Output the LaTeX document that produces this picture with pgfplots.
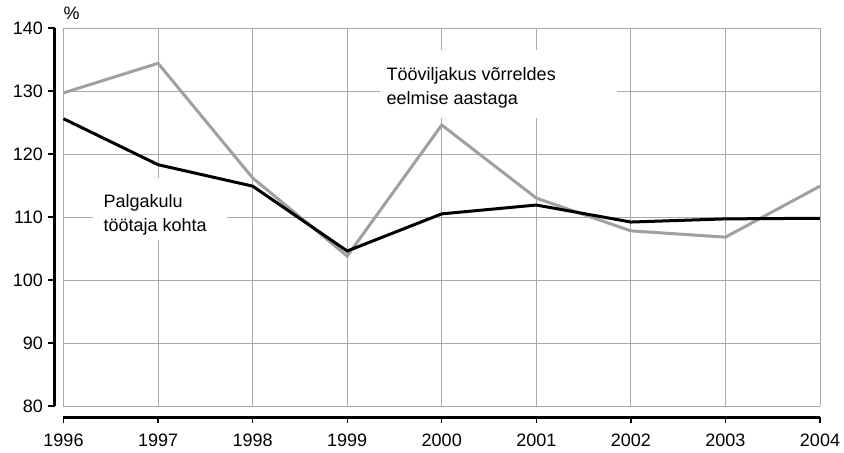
\documentclass[border=0pt]{standalone}
\usepackage{pgfplots}
\pgfplotsset{compat=1.18}
\usepackage{fontspec}
\setmainfont{Liberation Sans}
\definecolor{gridc}{RGB}{170,170,170}
\definecolor{linec}{RGB}{160,160,160}
\begin{document}
\begin{tikzpicture}
\begin{axis}[
  scale only axis, width=756.5pt, height=378pt,
  xmin=0, xmax=8, ymin=80, ymax=140,
  xtick={0,...,8}, xticklabels={1996,1997,1998,1999,2000,2001,2002,2003,2004},
  ytick={80,90,...,140},
  /pgf/number format/assume math mode=true,
  ticklabel style={font=\fontsize{18}{21}\selectfont, inner sep=0pt},
  yticklabel style={anchor=east, xshift=-20.5pt},
  xticklabel style={anchor=north, yshift=-28pt},
  axis line style={draw=none},
  major tick length=0pt,
  grid=major, major grid style={gridc, line width=1pt},
  clip=false,
]
\path (rel axis cs:0,0) ++(-63.5pt,-46pt);
\path (rel axis cs:1,1) ++(24pt,28pt);
% axis lines and ticks (detached)
\draw[black, line width=3pt] ([xshift=-8.5pt]rel axis cs:0,0) -- ([xshift=-8.5pt]rel axis cs:0,1);
\draw[black, line width=3pt] ([yshift=-11pt]rel axis cs:0,0) -- ([yshift=-11pt]rel axis cs:1,0);
\pgfplotsinvokeforeach{0,1,2,3,4,5,6}{
  \draw[black, line width=1.3pt] ([xshift=-8.5pt]rel axis cs:0,#1/6) -- ([xshift=-15.5pt]rel axis cs:0,#1/6);
}
\pgfplotsinvokeforeach{0,1,2,3,4,5,6,7,8}{
  \draw[black, line width=1.3pt] ([yshift=-11pt]rel axis cs:#1/8,0) -- ([yshift=-17pt]rel axis cs:#1/8,0);
}
% white label boxes
\fill[white] (axis cs:3.347,136.51) rectangle (axis cs:5.853,125.71);
\fill[white] (axis cs:0.312,116.19) rectangle (axis cs:1.729,106.35);
\addplot[linec, line width=3pt] coordinates {
(0,129.7) (1,134.4) (2,116.2) (3,103.8) (4,124.6) (5,113.0) (6,107.8) (7,106.8) (8,114.9)};
\addplot[black, line width=3pt] coordinates {
(0,125.6) (1,118.3) (2,114.9) (3,104.6) (4,110.5) (5,111.9) (6,109.2) (7,109.7) (8,109.8)};
\begin{scope}[every node/.style={anchor=base west, inner sep=0pt, font=\fontsize{18}{21}\selectfont}]
\node at (axis cs:3.416,131.67) {Tööviljakus võrreldes};
\node at (axis cs:3.416,127.78) {eelmise aastaga};
\node at (axis cs:0.423,111.54) {Palgakulu};
\node at (axis cs:0.423,107.67) {töötaja kohta};
\end{scope}
\node[anchor=base west, inner sep=0pt, font=\fontsize{18}{21}\selectfont] at ([yshift=9pt]rel axis cs:0,1) {\%};
\end{axis}
\end{tikzpicture}
\end{document}
